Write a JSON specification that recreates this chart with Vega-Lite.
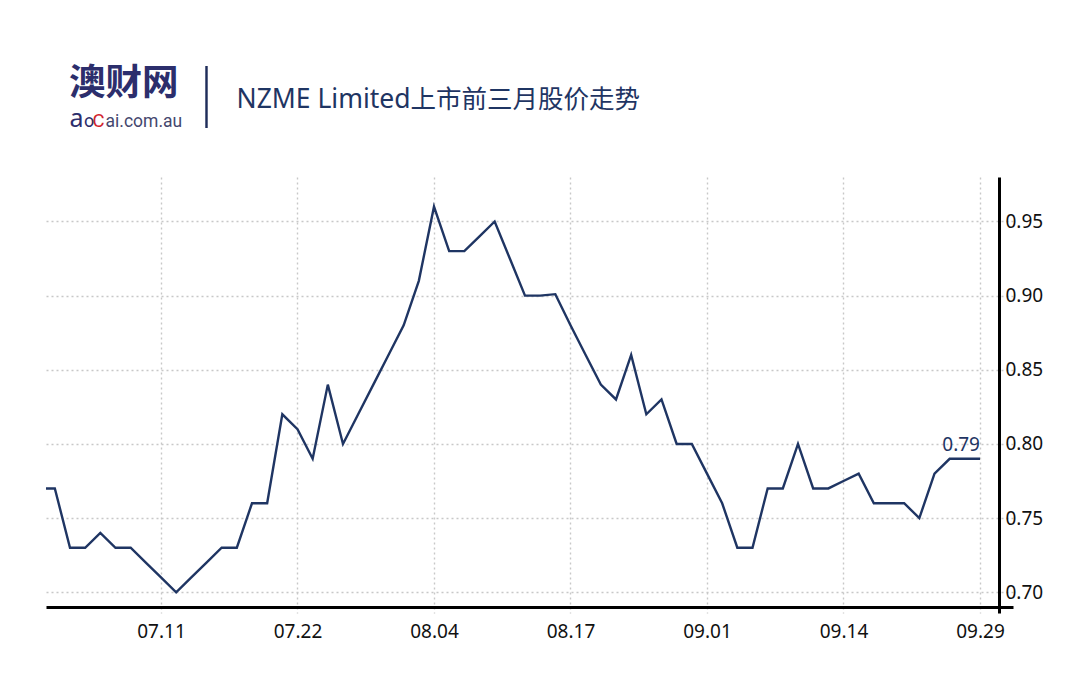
{
  "$schema": "https://vega.github.io/schema/vega-lite/v6.json",
  "autosize": {"type": "none"},
  "padding": {"left": 46, "top": 177, "right": 67, "bottom": 69},
  "width": 967,
  "height": 436,
  "background": "white",
  "config": {"view": {"stroke": null}},
  "data": {"values": [
    {"i": 0, "price": 0.77}, {"i": 1, "price": 0.77}, {"i": 2, "price": 0.73}, {"i": 3, "price": 0.73},
    {"i": 4, "price": 0.74}, {"i": 5, "price": 0.73}, {"i": 6, "price": 0.73}, {"i": 7, "price": 0.72},
    {"i": 8, "price": 0.71}, {"i": 9, "price": 0.70}, {"i": 10, "price": 0.71}, {"i": 11, "price": 0.72},
    {"i": 12, "price": 0.73}, {"i": 13, "price": 0.73}, {"i": 14, "price": 0.76}, {"i": 15, "price": 0.76},
    {"i": 16, "price": 0.82}, {"i": 17, "price": 0.81}, {"i": 18, "price": 0.79}, {"i": 19, "price": 0.84},
    {"i": 20, "price": 0.80}, {"i": 21, "price": 0.82}, {"i": 22, "price": 0.84}, {"i": 23, "price": 0.86},
    {"i": 24, "price": 0.88}, {"i": 25, "price": 0.91}, {"i": 26, "price": 0.96}, {"i": 27, "price": 0.93},
    {"i": 28, "price": 0.93}, {"i": 29, "price": 0.94}, {"i": 30, "price": 0.95}, {"i": 31, "price": 0.925},
    {"i": 32, "price": 0.90}, {"i": 33, "price": 0.90}, {"i": 34, "price": 0.901}, {"i": 35, "price": 0.88},
    {"i": 36, "price": 0.86}, {"i": 37, "price": 0.84}, {"i": 38, "price": 0.83}, {"i": 39, "price": 0.86},
    {"i": 40, "price": 0.82}, {"i": 41, "price": 0.83}, {"i": 42, "price": 0.80}, {"i": 43, "price": 0.80},
    {"i": 44, "price": 0.78}, {"i": 45, "price": 0.76}, {"i": 46, "price": 0.73}, {"i": 47, "price": 0.73},
    {"i": 48, "price": 0.77}, {"i": 49, "price": 0.77}, {"i": 50, "price": 0.80}, {"i": 51, "price": 0.77},
    {"i": 52, "price": 0.77}, {"i": 53, "price": 0.775}, {"i": 54, "price": 0.78}, {"i": 55, "price": 0.76},
    {"i": 56, "price": 0.76}, {"i": 57, "price": 0.76}, {"i": 58, "price": 0.75}, {"i": 59, "price": 0.78},
    {"i": 60, "price": 0.79}, {"i": 61, "price": 0.79}, {"i": 62, "price": 0.79}
  ]},
  "layer": [
    {
      "mark": {"type": "line", "color": "#1f3563", "strokeWidth": 2.4, "clip": true},
      "encoding": {
        "x": {
          "field": "i", "type": "quantitative",
          "scale": {"domain": [0.418, 64.176], "nice": false, "zero": false},
          "axis": {
            "orient": "bottom", "offset": -6,
            "values": [8, 17, 26, 35, 44, 53, 62],
            "labelExpr": "['07.11','07.22','08.04','08.17','09.01','09.14','09.29'][round((datum.value-8)/9)]",
            "ticks": false, "domainColor": "#000000", "domainWidth": 3,
            "grid": true, "gridColor": "#c8c8c8", "gridDash": [2, 3], "gridWidth": 1.4,
            "labelFont": "Noto Sans", "labelFontSize": 19, "labelColor": "#111111", "labelPadding": 15,
            "title": "澳财网", "titleX": 22.5, "titleY": -513, "titleAlign": "left", "titleAnchor": "start",
            "titleBaseline": "alphabetic", "titleFont": "Noto Sans CJK SC", "titleFontSize": 36.5,
            "titleFontWeight": "bold", "titleColor": "#2c2e6c"
          }
        },
        "y": {
          "field": "price", "type": "quantitative",
          "scale": {"domain": [0.686, 0.980], "nice": false, "zero": false},
          "axis": {
            "orient": "right", "offset": -14,
            "values": [0.7, 0.75, 0.8, 0.85, 0.9, 0.95], "format": ".2f",
            "ticks": false, "domainColor": "#000000", "domainWidth": 3,
            "grid": true, "gridColor": "#c8c8c8", "gridDash": [2, 3], "gridWidth": 1.4,
            "labelFont": "Noto Sans", "labelFontSize": 19, "labelColor": "#111111", "labelPadding": 6,
            "title": "a", "titleAngle": 0, "titleX": -930, "titleY": -50.5, "titleAlign": "left",
            "titleAnchor": "start", "titleBaseline": "alphabetic", "titleFont": "Noto Sans",
            "titleFontSize": 25, "titleFontWeight": "normal", "titleColor": "#2c2e6c"
          }
        }
      }
    },
    {
      "transform": [{"filter": "datum.i == 62"}],
      "mark": {"type": "text", "align": "right", "baseline": "alphabetic", "dy": -8, "font": "Noto Sans", "fontSize": 19, "color": "#1f3563"},
      "encoding": {
        "x": {"field": "i", "type": "quantitative", "axis": null},
        "y": {"field": "price", "type": "quantitative", "axis": null},
        "text": {"field": "price", "type": "quantitative", "format": ".2f"}
      }
    },
    {
      "mark": {"type": "point", "opacity": 0},
      "encoding": {
        "x": {
          "field": "i", "type": "quantitative",
          "axis": {
            "orient": "top", "labels": false, "ticks": false, "domain": false, "grid": false,
            "title": "NZME Limited", "titleX": 190, "titleY": -70, "titleAlign": "left",
            "titleAnchor": "start", "titleBaseline": "alphabetic", "titleFont": "Noto Sans",
            "titleFontSize": 26.5, "titleFontWeight": "normal", "titleColor": "#1f3563"
          }
        },
        "y": {
          "field": "price", "type": "quantitative",
          "axis": {
            "orient": "left", "labels": false, "ticks": false, "domain": false, "grid": false,
            "title": "│", "titleAngle": 0, "titleX": 160, "titleY": -56.4, "titleAlign": "center",
            "titleAnchor": "start", "titleBaseline": "alphabetic", "titleFont": "Noto Sans CJK SC",
            "titleFontSize": 62, "titleFontWeight": "normal", "titleColor": "#1f2d5a"
          }
        }
      }
    },
    {
      "mark": {"type": "point", "opacity": 0},
      "encoding": {
        "x": {
          "field": "i", "type": "quantitative",
          "axis": {
            "orient": "top", "labels": false, "ticks": false, "domain": false, "grid": false,
            "title": "o", "titleX": 37.5, "titleY": -50.5, "titleAlign": "left",
            "titleAnchor": "start", "titleBaseline": "alphabetic", "titleFont": "Roboto",
            "titleFontSize": 18, "titleFontWeight": "normal", "titleColor": "#2c2e6c"
          }
        },
        "y": {
          "field": "price", "type": "quantitative",
          "axis": {
            "orient": "left", "labels": false, "ticks": false, "domain": false, "grid": false,
            "title": "C", "titleAngle": 0, "titleX": 46, "titleY": -50.5, "titleAlign": "left",
            "titleAnchor": "start", "titleBaseline": "alphabetic", "titleFont": "Roboto",
            "titleFontSize": 18.5, "titleFontWeight": "normal", "titleColor": "#d2232e"
          }
        }
      }
    },
    {
      "mark": {"type": "point", "opacity": 0},
      "encoding": {
        "x": {
          "field": "i", "type": "quantitative",
          "axis": {
            "orient": "top", "labels": false, "ticks": false, "domain": false, "grid": false,
            "title": "ai.com.au", "titleX": 59, "titleY": -50.5, "titleAlign": "left",
            "titleAnchor": "start", "titleBaseline": "alphabetic", "titleFont": "Roboto",
            "titleFontSize": 17.5, "titleFontWeight": "normal", "titleColor": "#44476e"
          }
        },
        "y": {
          "field": "price", "type": "quantitative",
          "axis": {
            "orient": "left", "labels": false, "ticks": false, "domain": false, "grid": false,
            "title": "上市前三月股价走势", "titleAngle": 0, "titleX": 364, "titleY": -70, "titleAlign": "left",
            "titleAnchor": "start", "titleBaseline": "alphabetic", "titleFont": "Noto Sans CJK SC",
            "titleFontSize": 25.5, "titleFontWeight": "normal", "titleColor": "#1f3563"
          }
        }
      }
    }
  ],
  "resolve": {"axis": {"x": "independent", "y": "independent"}}
}
